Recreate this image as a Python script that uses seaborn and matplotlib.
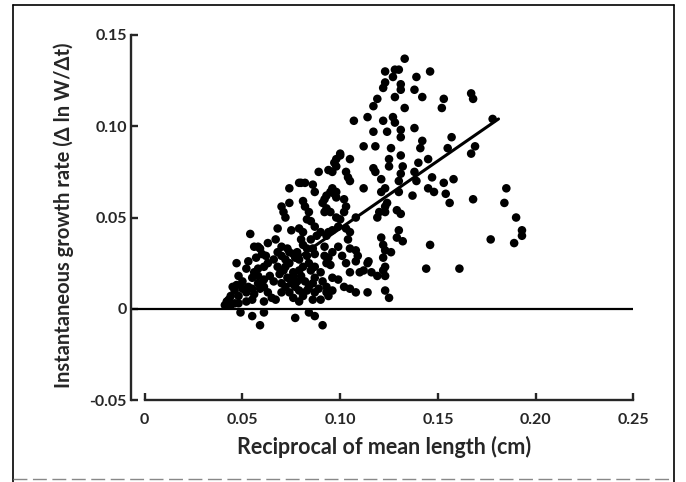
import matplotlib
matplotlib.use("Agg")
import matplotlib.pyplot as plt
import seaborn as sns
import pandas as pd
from matplotlib.lines import Line2D

# Reciprocal of mean length (1/cm) and instantaneous growth rate
recip_length = [
    0.167, 0.168, 0.185, 0.184, 0.190, 0.193, 0.193, 0.189, 0.177, 0.161, 0.168, 0.169, 0.167, 0.178,
    0.153, 0.152, 0.157, 0.155, 0.158, 0.153, 0.154, 0.156,
    0.146, 0.142, 0.139, 0.138, 0.138, 0.142, 0.141, 0.140, 0.138, 0.139, 0.137, 0.145, 0.148, 0.147, 0.145, 0.144, 0.146,
    0.133, 0.130, 0.128, 0.123, 0.127, 0.131, 0.131, 0.128, 0.133, 0.123, 0.122, 0.119, 0.117, 0.114, 0.122, 0.127, 0.128,
    0.124, 0.117, 0.107, 0.112, 0.118, 0.126, 0.131, 0.131,
    0.125, 0.125, 0.131, 0.132, 0.117, 0.118, 0.121, 0.123, 0.121, 0.131, 0.130, 0.130, 0.124, 0.129, 0.131, 0.123,
    0.123, 0.120, 0.119, 0.112,
    0.130, 0.129, 0.132, 0.121, 0.122, 0.123, 0.122, 0.123, 0.123, 0.119, 0.116, 0.112, 0.114, 0.123, 0.125, 0.114,
    0.108, 0.105, 0.102, 0.099, 0.096, 0.105, 0.108, 0.109, 0.105, 0.104, 0.105, 0.103, 0.108, 0.102, 0.103, 0.102,
    0.104, 0.105, 0.103, 0.105, 0.100, 0.098, 0.096, 0.094, 0.089,
    0.096, 0.098, 0.095, 0.093, 0.092, 0.091, 0.093, 0.092, 0.095, 0.098, 0.100, 0.099, 0.096, 0.094, 0.093, 0.090,
    0.087, 0.085, 0.083, 0.084, 0.082, 0.081, 0.087, 0.086, 0.082, 0.074, 0.070, 0.071, 0.074, 0.072, 0.075, 0.068,
    0.079, 0.081,
    0.054, 0.058, 0.059, 0.056, 0.047, 0.067, 0.063, 0.070, 0.073, 0.081, 0.083, 0.086, 0.087, 0.092, 0.092, 0.093,
    0.096, 0.099, 0.094, 0.095, 0.101, 0.103,
    0.087, 0.085, 0.090, 0.084, 0.083, 0.081, 0.079, 0.076, 0.074, 0.072, 0.071, 0.066, 0.063, 0.061, 0.058, 0.056,
    0.052, 0.048, 0.050, 0.053, 0.045, 0.046, 0.044, 0.043, 0.042, 0.048, 0.052, 0.055, 0.058, 0.061, 0.063, 0.065,
    0.061, 0.064, 0.066, 0.070, 0.072, 0.074, 0.076, 0.079, 0.081, 0.083, 0.084, 0.086, 0.087, 0.087, 0.086, 0.093,
    0.093, 0.094, 0.070, 0.067, 0.061, 0.055, 0.052, 0.048,
    0.049, 0.055, 0.061, 0.059, 0.077, 0.084, 0.087, 0.091,
    0.100, 0.098, 0.097, 0.097, 0.098, 0.085, 0.088, 0.080, 0.078, 0.076, 0.077, 0.079,
    0.057, 0.060, 0.062, 0.053, 0.055, 0.058, 0.059, 0.056, 0.050, 0.047,
    0.068, 0.070, 0.072, 0.068, 0.069, 0.073, 0.075, 0.077, 0.078, 0.080, 0.082, 0.079, 0.076, 0.074,
    0.044, 0.046, 0.041, 0.090, 0.089, 0.091, 0.096,
    0.126, 0.1145, 0.110, 0.122, 0.108, 0.080, 0.079,
]
growth_rate = [
    0.118, 0.115, 0.066, 0.058, 0.050, 0.043, 0.040, 0.036, 0.038, 0.022, 0.060, 0.089, 0.085, 0.104,
    0.115, 0.110, 0.094, 0.088, 0.071, 0.069, 0.063, 0.058,
    0.130, 0.116, 0.127, 0.120, 0.099, 0.092, 0.088, 0.080, 0.075, 0.070, 0.062, 0.066, 0.064, 0.072, 0.082, 0.022, 0.035,
    0.137, 0.131, 0.131, 0.130, 0.127, 0.123, 0.120, 0.116, 0.110, 0.124, 0.121, 0.115, 0.111, 0.105, 0.103, 0.105, 0.102,
    0.097, 0.097, 0.103, 0.089, 0.089, 0.088, 0.094, 0.098,
    0.082, 0.078, 0.084, 0.078, 0.077, 0.075, 0.071, 0.066, 0.064, 0.074, 0.070, 0.064, 0.058, 0.054, 0.052, 0.056,
    0.053, 0.053, 0.050, 0.066,
    0.043, 0.039, 0.037, 0.039, 0.035, 0.032, 0.028, 0.023, 0.018, 0.018, 0.020, 0.021, 0.025, 0.010, 0.006, 0.009,
    0.009, 0.011, 0.012, 0.016, 0.017, 0.020, 0.026, 0.029, 0.033, 0.038, 0.042, 0.044, 0.050, 0.053, 0.056, 0.060,
    0.072, 0.070, 0.075, 0.082, 0.084, 0.078, 0.075, 0.076, 0.075,
    0.066, 0.064, 0.064, 0.062, 0.060, 0.058, 0.055, 0.053, 0.053, 0.050, 0.049, 0.045, 0.043, 0.042, 0.040, 0.042,
    0.045, 0.048, 0.049, 0.053, 0.056, 0.059, 0.064, 0.068, 0.069, 0.066, 0.056, 0.053, 0.058, 0.050, 0.043, 0.044,
    0.044, 0.042,
    0.041, 0.034, 0.033, 0.034, 0.025, 0.038, 0.036, 0.034, 0.033, 0.035, 0.033, 0.033, 0.030, 0.034, 0.029, 0.025,
    0.031, 0.034, 0.028, 0.024, 0.029, 0.025,
    0.023, 0.021, 0.020, 0.025, 0.029, 0.023, 0.021, 0.018, 0.025, 0.023, 0.021, 0.027, 0.025, 0.023, 0.022, 0.020,
    0.022, 0.018, 0.015, 0.012, 0.012, 0.010, 0.007, 0.005, 0.004, 0.007, 0.009, 0.011, 0.014, 0.012, 0.009, 0.006,
    0.016, 0.018, 0.015, 0.014, 0.012, 0.009, 0.006, 0.004, 0.007, 0.010, 0.012, 0.014, 0.017, 0.009, 0.005, 0.012,
    0.009, 0.007, 0.009, 0.005, 0.004, 0.005, 0.004, 0.003,
    -0.002, -0.004, -0.002, -0.009, -0.005, -0.002, -0.004, -0.009,
    0.085, 0.082, 0.080, 0.063, 0.061, 0.038, 0.040, 0.038, 0.031, 0.030, 0.028, 0.027,
    0.028, 0.030, 0.029, 0.026, 0.017, 0.018, 0.011, 0.008, 0.011, 0.013,
    0.031, 0.029, 0.027, 0.023, 0.019, 0.017, 0.014, 0.012, 0.015, 0.018, 0.015, 0.010, 0.020, 0.031,
    0.002, 0.003, 0.002, 0.005, 0.011, 0.015, 0.010,
    0.031, 0.026, 0.020, 0.021, 0.032, 0.069, 0.069,
]

# fitted line end points
fit_x = [0.077, 0.181]
fit_y = [0.027, 0.104]

x_ticks = [0, 0.05, 0.10, 0.15, 0.20, 0.25]
x_tick_labels = ["0", "0.05", "0.10", "0.15", "0.20", "0.25"]
y_ticks = [-0.05, 0, 0.05, 0.10, 0.15]
y_tick_labels = ["-0.05", "0", "0.05", "0.10", "0.15"]

df = pd.DataFrame({"recip": recip_length, "rate": growth_rate})
fit_df = pd.DataFrame({"recip": fit_x, "rate": fit_y})

sns.set_style("ticks")
plt.rcParams["font.family"] = ["Lato", "DejaVu Sans"]

fig = plt.figure(figsize=(6.86, 4.82), dpi=100)
ax = fig.add_axes([0.191, 0.170, 0.738, 0.765])

ax.hlines(0, -0.007, 0.25, color="black", linewidth=1.6, zorder=1)
sns.scatterplot(data=df, x="recip", y="rate", ax=ax, color="black",
                s=38, edgecolor="none", zorder=3)
sns.lineplot(data=fit_df, x="recip", y="rate", ax=ax, color="black",
             linewidth=2.2, zorder=4)

ax.set_xlim(-0.007, 0.252)
ax.set_ylim(-0.05, 0.152)
ax.set_xticks(x_ticks)
ax.set_xticklabels(x_tick_labels, fontweight="bold")
ax.set_yticks(y_ticks)
ax.set_yticklabels(y_tick_labels, fontweight="bold")

for side in ["top", "right"]:
    ax.spines[side].set_visible(False)
ax.spines["left"].set_linewidth(1.7)
ax.spines["bottom"].set_linewidth(1.7)
ax.spines["bottom"].set_bounds(0, 0.25)
ax.spines["left"].set_bounds(-0.05, 0.15)

ax.tick_params(direction="in", length=5, width=1.7, labelsize=11.5)
ax.tick_params(axis="x", pad=9)
ax.tick_params(axis="y", pad=3)

ax.set_xlabel("Reciprocal of mean length (cm)", fontsize=15.5, fontweight="bold", labelpad=7)
ax.set_ylabel("Instantaneous growth rate (Δ ln W/Δt)", fontsize=14.5, fontweight="bold", labelpad=11)

# frame around the figure, as in the scanned page
fig.add_artist(Line2D([0.019, 0.019], [0.0, 0.99], transform=fig.transFigure, color="black", linewidth=1.2))
fig.add_artist(Line2D([0.019, 0.982], [0.99, 0.99], transform=fig.transFigure, color="black", linewidth=1.2))
fig.add_artist(Line2D([0.982, 0.982], [0.0, 0.99], transform=fig.transFigure, color="black", linewidth=1.2))
fig.add_artist(Line2D([0.019, 0.982], [0.006, 0.006], transform=fig.transFigure, color="#888888",
                      linewidth=1.0, linestyle=(0, (10, 4))))

plt.savefig("out.png", dpi=100)
